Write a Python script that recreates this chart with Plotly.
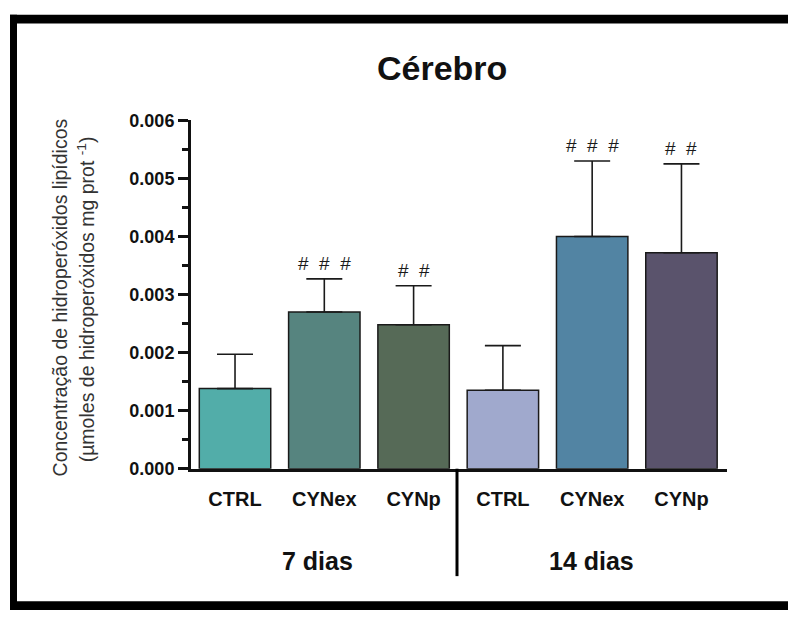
import plotly.graph_objects as go

# ---- data ----
groups = ["CTRL", "CYNex", "CYNp", "CTRL", "CYNex", "CYNp"]
means = [0.00138, 0.00270, 0.00248, 0.00135, 0.00400, 0.00372]
errors = [0.00059, 0.00057, 0.00067, 0.00077, 0.00130, 0.00153]
signif = ["", "# # #", "# #", "", "# # #", "# #"]
periods = ["7 dias", "14 dias"]
y_ticks = [0, 0.001, 0.002, 0.003, 0.004, 0.005, 0.006]
bar_colors = ["#52ADA9", "#56847F", "#566A57", "#A0A9CD", "#5284A3", "#5A536C"]

W, H = 788, 620
positions = list(range(len(groups)))

def px(x):
    return x / W

def py(y):
    return 1 - y / H

fig = go.Figure()
fig.add_trace(go.Bar(
    x=positions, y=means, width=0.8,
    marker=dict(color=bar_colors, line=dict(color="#1a1a1a", width=1.5)),
    error_y=dict(type="data", array=errors, arrayminus=[0] * len(errors),
                 symmetric=False, thickness=1.6, width=18, color="#1a1a1a"),
    showlegend=False, hoverinfo="skip",
))

annotations = []
for i, (m, e, s) in enumerate(zip(means, errors, signif)):
    if s:
        annotations.append(dict(x=positions[i], y=m + e, xref="x", yref="y",
                                text=s.replace(" ", "\u00a0\u00a0"),
                                showarrow=False, yanchor="bottom", yshift=3,
                                font=dict(family="Liberation Sans, Arial", size=19, color="#1a1a1a")))

annotations.append(dict(x=px(442), y=py(60), xref="paper", yref="paper", text="<b>Cérebro</b>",
                        showarrow=False, xanchor="center", yanchor="middle",
                        font=dict(family="Liberation Sans, Arial", size=34, color="#111")))
annotations.append(dict(x=px(60), y=py(297), xref="paper", yref="paper",
                        text="Concentração de hidroperóxidos lipídicos", textangle=-90,
                        showarrow=False, xanchor="center", yanchor="middle",
                        font=dict(family="Liberation Sans, Arial", size=19.5, color="#333")))
annotations.append(dict(x=px(86), y=py(299), xref="paper", yref="paper",
                        text="(µmoles de hidroperóxidos mg prot <sup>-1</sup>)", textangle=-90,
                        showarrow=False, xanchor="center", yanchor="middle",
                        font=dict(family="Liberation Sans, Arial", size=19.5, color="#333")))
for txt, cx in zip(periods, [317, 591]):
    annotations.append(dict(x=px(cx), y=py(569), xref="paper", yref="paper",
                            text="<b>%s</b>" % txt, showarrow=False,
                            xanchor="center", yanchor="middle",
                            font=dict(family="Liberation Sans, Arial", size=25, color="#111")))

shapes = [
    dict(type="rect", xref="paper", yref="paper", x0=px(10), x1=px(17), y0=py(620), y1=py(5),
         fillcolor="black", line=dict(width=0)),
    dict(type="rect", xref="paper", yref="paper", x0=px(10), x1=px(788), y0=py(14), y1=py(5),
         fillcolor="black", line=dict(width=0)),
    dict(type="rect", xref="paper", yref="paper", x0=px(10), x1=px(788), y0=py(620), y1=py(611),
         fillcolor="black", line=dict(width=0)),
    dict(type="line", xref="paper", yref="paper", x0=px(457), x1=px(457), y0=py(474), y1=py(585),
         line=dict(color="black", width=3)),
]

fig.update_layout(
    width=W, height=H, margin=dict(l=0, r=0, t=0, b=0),
    paper_bgcolor="white", plot_bgcolor="white",
    annotations=annotations, shapes=shapes,
    xaxis=dict(domain=[px(191), px(727)], range=[-0.493, 5.51],
               tickvals=positions, ticktext=["<b>%s</b>" % g for g in groups],
               tickfont=dict(family="Liberation Sans, Arial", size=20, color="#111"),
               showline=True, linecolor="#111", linewidth=3, ticks="", ticklabelstandoff=10,
               showgrid=False, zeroline=False),
    yaxis=dict(domain=[py(474), py(114)], range=[0, 0.006],
               tickvals=y_ticks, ticktext=["<b>%.3f</b>" % v for v in y_ticks],
               tickfont=dict(family="Liberation Sans, Arial", size=18, color="#111"),
               ticks="outside", ticklen=10, tickwidth=2.5, tickcolor="#111",
               minor=dict(dtick=0.0005, ticks="outside", ticklen=6, tickwidth=2.5, tickcolor="#111"),
               showline=True, linecolor="#111", linewidth=3,
               showgrid=False, zeroline=False),
)

fig.write_html("out.html")
